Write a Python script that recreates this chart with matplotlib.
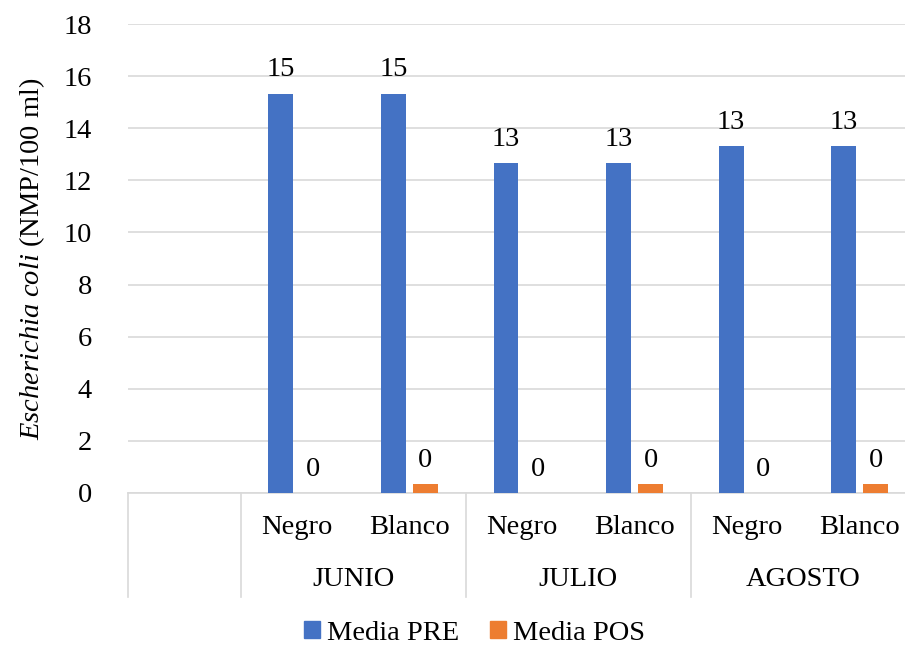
import matplotlib
matplotlib.use("Agg")
import matplotlib.pyplot as plt
from matplotlib.patches import Patch
import numpy as np

plt.rcParams['font.family'] = ['Liberation Serif', 'DejaVu Serif']
plt.rcParams['mathtext.fontset'] = 'custom'
plt.rcParams['mathtext.it'] = 'Liberation Serif:italic'
plt.rcParams['mathtext.rm'] = 'Liberation Serif'

months = ['JUNIO', 'JULIO', 'AGOSTO']
colors_cat = ['Negro', 'Blanco']
sub_labels = ['', 'Negro', 'Blanco', 'Negro', 'Blanco', 'Negro', 'Blanco']
media_pre = [np.nan, 15.33, 15.33, 12.67, 12.67, 13.33, 13.33]
media_pos = [np.nan, 0.0, 0.33, 0.0, 0.33, 0.0, 0.33]
yticks = [0, 2, 4, 6, 8, 10, 12, 14, 16, 18]

BLUE = '#4472C4'
ORANGE = '#ED7D31'
GRID = '#D9D9D9'
FS = 20.5

fig = plt.figure(figsize=(9.05, 6.46), dpi=100)
ax = fig.add_axes([128/905, 1-493/646, (916-128)/905, (493-24)/646])

x = np.arange(len(sub_labels))
w = 0.22
off = 0.142
b1 = ax.bar(x - off, media_pre, w, color=BLUE, zorder=3)
b2 = ax.bar(x + off, media_pos, w, color=ORANGE, zorder=3)
for bars in (b1, b2):
    labels = ['' if np.isnan(v) else f'{v:.0f}' for v in bars.datavalues]
    ax.bar_label(bars, labels=labels, padding=8, fontsize=FS)

ax.set_xlim(-0.5, 6.5)
ax.set_ylim(0, 18)
ax.set_yticks(yticks)
ax.tick_params(axis='y', length=0, pad=26, labelsize=FS)
ax.yaxis.grid(True, color=GRID, lw=1.2, zorder=0)
for s in ['left', 'right', 'top']:
    ax.spines[s].set_visible(False)
ax.spines['bottom'].set_color(GRID)
ax.spines['bottom'].set_linewidth(1.2)
ax.set_xticks([])

trans = ax.get_xaxis_transform()
for xi, lab in zip(x, sub_labels):
    if lab:
        ax.text(xi, -0.0746, lab, transform=trans, ha='center', va='center', fontsize=FS)
for i, m in enumerate(months):
    ax.text(1.5 + 2*i, -0.1855, m, transform=trans, ha='center', va='center', fontsize=FS)
for xs in [-0.5, 0.5, 2.5, 4.5]:
    ax.plot([xs, xs], [0, -0.2217], transform=trans, color=GRID, lw=1.2, clip_on=False)

ax.set_ylabel(r'$\mathit{Escherichia\ coli}$ (NMP/100 ml)', fontsize=FS)
ax.yaxis.set_label_coords(-81/788, 0.5)

handles = [Patch(color=BLUE, label='Media PRE'), Patch(color=ORANGE, label='Media POS')]
fig.legend(handles=handles, loc='center', bbox_to_anchor=(474.5/905, 1-633/646), ncol=2,
           frameon=False, fontsize=FS, handlelength=0.55, handleheight=0.55,
           handletextpad=0.25, columnspacing=1.1)

fig.savefig('out.png', dpi=100)
